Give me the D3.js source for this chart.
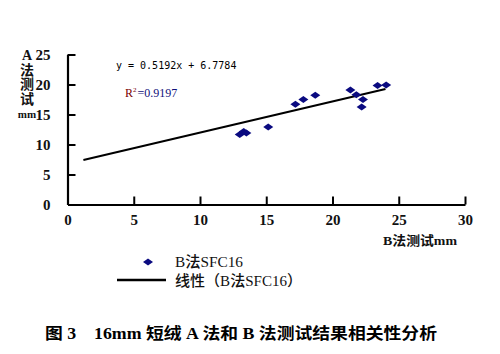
<!DOCTYPE html>
<html><head><meta charset="utf-8">
<script src="https://cdn.jsdelivr.net/npm/d3@7"></script>
<style>body{margin:0;background:#fff}svg{display:block}</style>
</head><body>
<script>
const bValues = [13.0, 13.3, 13.5, 15.15, 17.2, 17.8, 18.7, 21.35, 21.8, 22.3, 22.2, 23.4, 24.05];
const aValues = [11.65, 12.15, 11.9, 12.9, 16.7, 17.5, 18.2, 19.1, 18.3, 17.5, 16.25, 19.85, 19.9];
const slope = 0.5192, intercept = 6.7784;
const fitRange = [1.2, 24.0];
const xTicks = [0, 5, 10, 15, 20, 25, 30];
const yTicks = [0, 5, 10, 15, 20, 25];
const yLabelChars = ["A", "法", "测", "试", "mm"];

const W = 500, H = 354;
const svg = d3.select("body").append("svg").attr("width", W).attr("height", H);
const x = d3.scaleLinear().domain([0, 30]).range([67.5, 465]);
const y = d3.scaleLinear().domain([0, 25]).range([204.5, 54.5]);
const serif = "'Liberation Serif','DejaVu Serif','Noto Sans CJK SC',serif";
const cjk = "'Liberation Serif','Noto Sans CJK SC',serif";

// axes
const gx = svg.append("g").attr("transform", `translate(0,${y(0)})`)
  .call(d3.axisBottom(x).tickValues(xTicks).tickSizeInner(-8).tickSizeOuter(0).tickPadding(14));
const gy = svg.append("g").attr("transform", `translate(${x(0)},0)`)
  .call(d3.axisLeft(y).tickValues(yTicks).tickSizeInner(-8).tickSizeOuter(0).tickPadding(17));
[gx, gy].forEach(g => {
  g.select(".domain").attr("stroke", "#000").attr("stroke-width", 2.2);
  g.selectAll(".tick line").attr("stroke", "#000").attr("stroke-width", 2);
  g.selectAll(".tick text").attr("font-family", serif).attr("font-weight", "bold")
    .attr("font-size", 15).attr("fill", "#111");
});
gx.selectAll(".tick").filter(d => d === 0).select("line").remove();
gy.selectAll(".tick").filter(d => d === 0).select("line").remove();
gx.selectAll(".tick text").attr("dy", "0.45em");
gy.selectAll(".tick text").attr("dy", "0.3em");

// regression line
svg.append("line")
  .attr("x1", x(fitRange[0])).attr("y1", y(slope * fitRange[0] + intercept))
  .attr("x2", x(fitRange[1])).attr("y2", y(slope * fitRange[1] + intercept))
  .attr("stroke", "#000").attr("stroke-width", 2);

// points
const diamond = (cx, cy) => `M${cx - 5},${cy} L${cx},${cy - 3.5} L${cx + 5},${cy} L${cx},${cy + 3.5} Z`;
svg.append("g").selectAll("path").data(bValues).join("path")
  .attr("d", (d, i) => diamond(x(d), y(aValues[i])))
  .attr("fill", "#0a0a80");

// equation text
svg.append("text").attr("x", 116).attr("y", 69)
  .attr("font-family", "'DejaVu Sans Mono','Liberation Mono',monospace").attr("font-size", 10)
  .attr("fill", "#000").text("y = 0.5192x + 6.7784");
const r2 = svg.append("text").attr("x", 125).attr("y", 97)
  .attr("font-family", serif).attr("font-size", 12);
r2.append("tspan").attr("fill", "#7a0000").text("R");
r2.append("tspan").attr("fill", "#7a0000").attr("font-size", 7).attr("dy", -5).text("2");
r2.append("tspan").attr("fill", "#10107a").attr("dy", 5).attr("dx", 1).text("=0.9197");

// y axis label (stacked)
svg.append("g").selectAll("text").data(yLabelChars).join("text")
  .attr("x", 27).attr("y", (d, i) => 60 + i * 14.5)
  .attr("text-anchor", "middle")
  .attr("font-family", cjk).attr("font-weight", "bold")
  .attr("font-size", (d, i) => i === 4 ? 11 : 14)
  .attr("fill", "#111").text(d => d);

// x axis label
svg.append("text").attr("x", 383).attr("y", 245)
  .attr("font-family", cjk).attr("font-weight", "bold").attr("font-size", 13)
  .attr("textLength", 74).attr("lengthAdjust", "spacingAndGlyphs")
  .attr("fill", "#111").text("B法测试mm");

// legend
svg.append("path").attr("d", diamond(148, 262)).attr("fill", "#0a0a80");
svg.append("text").attr("x", 175).attr("y", 267)
  .attr("font-family", cjk).attr("font-size", 15).attr("font-weight", 500)
  .attr("textLength", 68).attr("lengthAdjust", "spacingAndGlyphs")
  .attr("fill", "#111").text("B法SFC16");
svg.append("line").attr("x1", 117).attr("x2", 166).attr("y1", 280).attr("y2", 280)
  .attr("stroke", "#000").attr("stroke-width", 2.5);
svg.append("text").attr("x", 175).attr("y", 286)
  .attr("font-family", cjk).attr("font-size", 15).attr("font-weight", 500)
  .attr("textLength", 127).attr("lengthAdjust", "spacingAndGlyphs")
  .attr("fill", "#111").text("线性（B法SFC16）");

// caption
svg.append("text").attr("x", 45).attr("y", 339)
  .attr("font-family", cjk).attr("font-weight", "bold").attr("font-size", 16)
  .attr("textLength", 392).attr("lengthAdjust", "spacingAndGlyphs")
  .attr("fill", "#000").text("图 3　16mm 短绒 A 法和 B 法测试结果相关性分析");
</script>
</body></html>
